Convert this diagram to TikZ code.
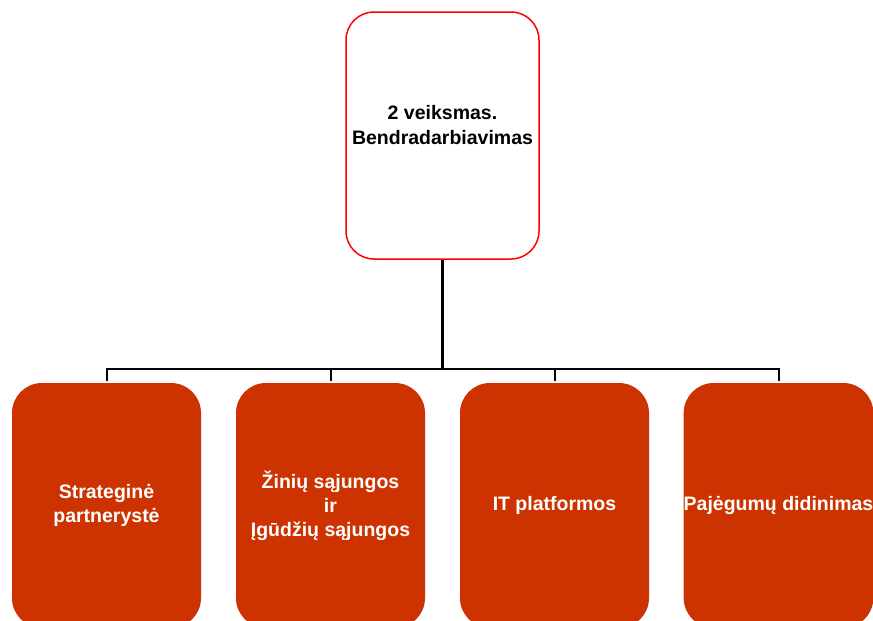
\documentclass[tikz,border=0pt]{standalone}
\usepackage{fontspec}
\setmainfont{Liberation Sans}
\definecolor{boxred}{HTML}{CC3300}
\begin{document}
\begin{tikzpicture}[x=1pt,y=-1pt,
  topbox/.style={draw=red, fill=white, line width=1.5pt, rounded corners=28pt,
    minimum width=193pt, minimum height=247pt, inner sep=0pt},
  subbox/.style={fill=boxred, draw=none, rounded corners=30pt,
    minimum width=189pt, minimum height=245pt, inner sep=0pt,
    text=white, font=\fontsize{19.5}{24}\selectfont\bfseries, align=center},
  conn/.style={draw=black, line width=2pt},
  stem/.style={draw=black, line width=3pt}]
\useasboundingbox (0,0) rectangle (873,621);
\begin{scope}
\clip (0,0) rectangle (873,621);
\node[topbox, label={[font=\fontsize{19.5}{25}\selectfont\bfseries, align=center, yshift=10pt]center:2 veiksmas.\\Bendradarbiavimas}] (top) at (442.5,135.5) {};
\node[subbox] (b1) at (106.5,505.5) {Strateginė\\partnerystė};
\node[subbox] (b2) at (330.5,505.5) {Žinių sąjungos\\ir\\Įgūdžių sąjungos};
\node[subbox] (b3) at (554.5,505.5) {IT platformos};
\node[subbox] (b4) at (778.5,505.5) {Pajėgumų didinimas};
\coordinate (bus) at (442.5,368.5);
\draw[stem] (top.south) -- (top.south |- bus);
\draw[conn] ([yshift=2pt]b1.north) -- (b1.north |- bus) -- (b4.north |- bus) -- ([yshift=2pt]b4.north);
\draw[conn] ([yshift=2pt]b2.north) -- (b2.north |- bus);
\draw[conn] ([yshift=2pt]b3.north) -- (b3.north |- bus);
\end{scope}
\end{tikzpicture}
\end{document}
